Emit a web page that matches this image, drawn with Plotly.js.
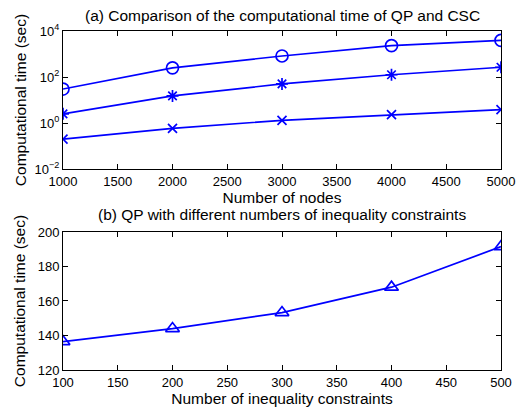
<!DOCTYPE html>
<html>
<head>
<meta charset="utf-8">
<script src="https://cdn.plot.ly/plotly-3.0.1.min.js"></script>
<style>html,body{margin:0;padding:0;background:#fff;}#chart{width:524px;height:407px;}</style>
</head>
<body>
<div id="chart"></div>
<script>
// Panel (a): computational time vs number of nodes (log scale)
var nodes = [1000, 2000, 3000, 4000, 5000];
var timeCircle = [30, 250, 820, 2300, 3900];
var timeStar = [2.5, 15, 50, 125, 265];
var timeX = [0.2, 0.59, 1.3, 2.3, 3.8];

// Panel (b): QP with different numbers of inequality constraints
var constraints = [100, 200, 300, 400, 500];
var timeQP = [136.5, 144, 153.3, 168, 191.5];

// Tick labels
var logTickVals = [0.01, 1, 100, 10000];
var logTickText = ['10<sup>\u22122</sup>', '10<sup>0</sup>', '10<sup>2</sup>', '10<sup>4</sup>'];

var titleA = '(a) Comparison of the computational time of QP and CSC';
var titleB = '(b) QP with different numbers of inequality constraints';
var xTitleA = 'Number of nodes';
var xTitleB = 'Number of inequality constraints';
var yTitle = 'Computational time (sec)';

var blue = 'rgb(0,0,255)';
var lineStyle = {color: blue, width: 1.7};

var traces = [
  {x: nodes, y: timeCircle, mode: 'lines+markers', line: lineStyle,
   marker: {symbol: 'circle-open', size: 12, color: blue, line: {width: 1.7, color: blue}}, xaxis: 'x', yaxis: 'y'},
  {x: nodes, y: timeStar, mode: 'lines+markers', line: lineStyle,
   marker: {symbol: 'asterisk-open', size: 10, color: blue, line: {width: 1.7, color: blue}}, xaxis: 'x', yaxis: 'y'},
  {x: nodes, y: timeX, mode: 'lines+markers', line: lineStyle,
   marker: {symbol: 'x-thin-open', size: 9, color: blue, line: {width: 1.7, color: blue}}, xaxis: 'x', yaxis: 'y'},
  {x: constraints, y: timeQP, mode: 'lines+markers', line: lineStyle,
   marker: {symbol: 'triangle-up-open', size: 12, color: blue, line: {width: 1.7, color: blue}}, xaxis: 'x2', yaxis: 'y2'}
];

var fam = 'Liberation Sans, Arial, sans-serif';
var axisCommon = {
  showline: true, linecolor: '#000', linewidth: 1, mirror: 'ticks',
  ticks: 'inside', ticklen: 5, tickcolor: '#000', tickwidth: 1,
  showgrid: false, zeroline: false, automargin: false,
  tickfont: {family: fam, size: 13, color: '#000'}
};
function ax(extra) { return Object.assign({}, axisCommon, extra); }
var titleFont = {family: fam, size: 15.5, color: '#000'};

var layout = {
  width: 524, height: 407,
  margin: {l: 63, r: 23, t: 31, b: 37},
  paper_bgcolor: '#fff', plot_bgcolor: '#fff',
  showlegend: false,
  font: {family: fam, color: '#000'},
  xaxis: ax({domain: [0, 1], anchor: 'y', range: [1000, 5000], dtick: 500, tick0: 1000,
    title: {text: xTitleA, font: titleFont, standoff: 0}}),
  yaxis: ax({domain: [0.5929, 1], anchor: 'x', type: 'log', range: [-2, 4],
    tickmode: 'array', tickvals: logTickVals, ticktext: logTickText,
    title: {text: yTitle, font: titleFont, standoff: 4}}),
  xaxis2: ax({domain: [0, 1], anchor: 'y2', range: [100, 500], dtick: 50, tick0: 100,
    title: {text: xTitleB, font: titleFont, standoff: 0}}),
  yaxis2: ax({domain: [0, 0.4071], anchor: 'x2', range: [120, 200], dtick: 20, tick0: 120,
    title: {text: yTitle, font: titleFont, standoff: 8}}),
  annotations: [
    {text: titleA, xref: 'paper', yref: 'paper', x: 0.5, y: 1, yshift: 16, showarrow: false,
     xanchor: 'center', yanchor: 'middle', font: titleFont},
    {text: titleB, xref: 'paper', yref: 'paper', x: 0.5, y: 0.4071, yshift: 17, showarrow: false,
     xanchor: 'center', yanchor: 'middle', font: titleFont}
  ]
};

Plotly.newPlot('chart', traces, layout, {staticPlot: true, displayModeBar: false});
</script>
</body>
</html>
